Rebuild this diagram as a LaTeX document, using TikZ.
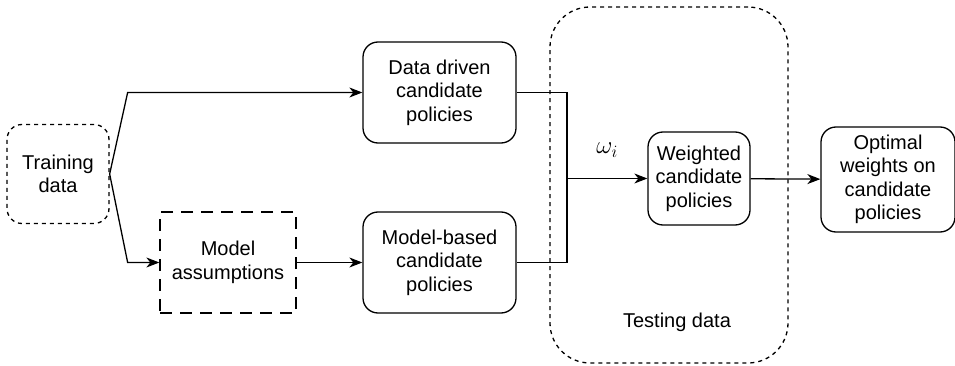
\documentclass[tikz,border=0pt]{standalone}
\usepackage{fontspec}
\setmainfont{Liberation Sans}
\usepackage{tikz}
\usetikzlibrary{arrows.meta}

\begin{document}
\begin{tikzpicture}[x=1pt, y=-1pt, line width=1.3pt,
    font=\fontsize{20}{23.5}\selectfont,
    box/.style={draw, rounded corners=15pt, align=center, inner sep=0pt},
    dotbox/.style={box, dash pattern=on 4pt off 4pt},
    arrow/.style={-{Stealth[length=13pt, width=10pt, inset=4pt]}}]
        \useasboundingbox (0,0) rectangle (955,366);

        % Nodes
        \node[dotbox, rounded corners=40pt, minimum width=238pt, minimum height=356pt] (test) at (669, 185) {};
        \node (testlabel) at (677, 322) {Testing data};
        \node[dotbox, minimum width=102pt, minimum height=99pt] (train) at (58, 174) {Training\\data};
        \node[box, minimum width=153pt, minimum height=101pt] (ddp) at (439.5, 92.5) {Data driven\\candidate\\policies};
        \node[draw, dash pattern=on 12pt off 8pt, align=center, minimum width=136pt, minimum height=101pt] (model) at (228, 262.5) {Model\\assumptions};
        \node[box, minimum width=153pt, minimum height=101pt] (mbp) at (439.5, 262.5) {Model-based\\candidate\\policies};
        \node[box, minimum width=102pt, minimum height=93pt] (wcp) at (699, 178.5) {Weighted\\candidate\\policies};
        \node[box, minimum width=134pt, minimum height=105pt] (opt) at (888, 179.5) {Optimal\\weights on\\candidate\\policies};
        \coordinate (split) at (567, 178.5);

        % Edges
        \draw[arrow] (train.east) -- ([xshift=18pt]train.east |- ddp.west) -- (ddp.west);
        \draw[arrow] (train.east) -- ([xshift=18pt]train.east |- model.west) -- (model.west);
        \draw[arrow] (model) -- (mbp);
        \draw (ddp.east) -| (split) |- (mbp.east);
        \draw[arrow] (split) -- node[above=16pt, scale=1.2] (weight) {$\omega_i$} (wcp.west);
        \draw[arrow] (wcp) -- (opt);

        % Labels
    \end{tikzpicture}
\end{document}
